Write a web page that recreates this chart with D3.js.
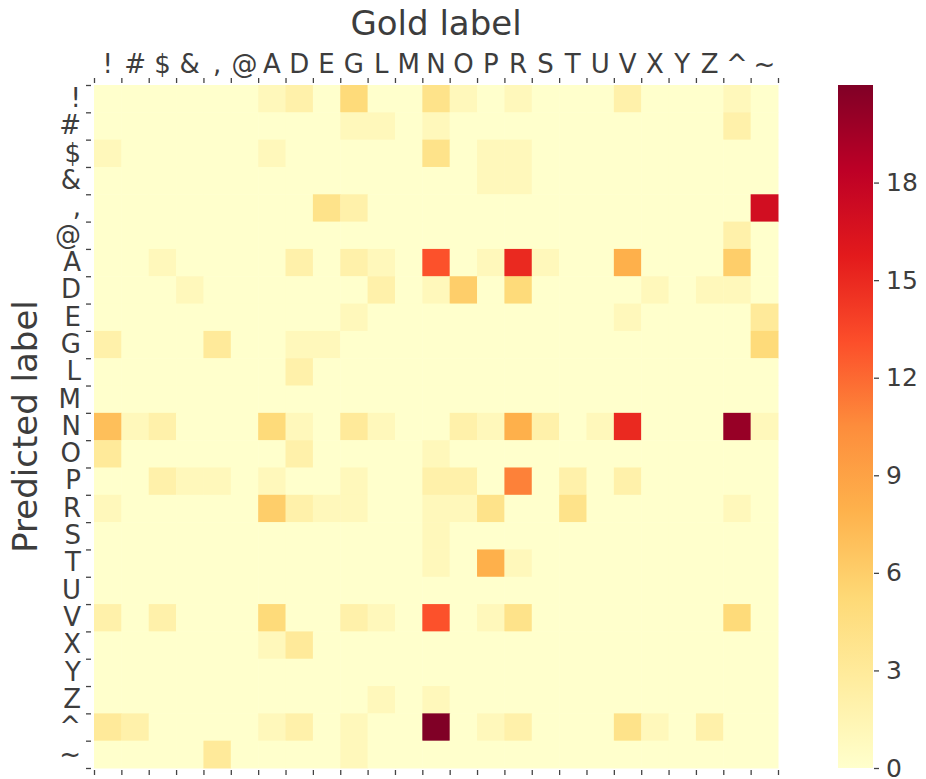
<!DOCTYPE html>
<html>
<head>
<meta charset="utf-8">
<script src="https://cdn.jsdelivr.net/npm/d3@7"></script>
<style>
  body { margin: 0; background: #fff; }
  svg { display: block; font-family: "DejaVu Sans", sans-serif; }
</style>
</head>
<body>
<div id="chart"></div>
<script>
// tag set, same order on both axes
const labels = ['!', '#', '$', '&', ',', '@', 'A', 'D', 'E', 'G', 'L', 'M', 'N',
  'O', 'P', 'R', 'S', 'T', 'U', 'V', 'X', 'Y', 'Z', '^', '~'];

// rows = predicted label, columns = gold label
const counts = [
  // !  #  $  &  ,  @  A  D  E  G  L  M  N   O  P  R   S  T  U  V   X  Y  Z  ^   ~
  [0, 0, 0, 0, 0, 0, 1, 2, 0, 5, 0, 0, 4, 1, 0, 1, 0, 0, 0, 2, 0, 0, 0, 1, 0],   // !
  [0, 0, 0, 0, 0, 0, 0, 0, 0, 1, 1, 0, 1, 0, 0, 0, 0, 0, 0, 0, 0, 0, 0, 2, 0],   // #
  [1, 0, 0, 0, 0, 0, 1, 0, 0, 0, 0, 0, 4, 0, 1, 1, 0, 0, 0, 0, 0, 0, 0, 0, 0],   // $
  [0, 0, 0, 0, 0, 0, 0, 0, 0, 0, 0, 0, 0, 0, 1, 1, 0, 0, 0, 0, 0, 0, 0, 0, 0],   // &
  [0, 0, 0, 0, 0, 0, 0, 0, 4, 2, 0, 0, 0, 0, 0, 0, 0, 0, 0, 0, 0, 0, 0, 0, 17],  // ,
  [0, 0, 0, 0, 0, 0, 0, 0, 0, 0, 0, 0, 0, 0, 0, 0, 0, 0, 0, 0, 0, 0, 0, 2, 0],   // @
  [0, 0, 1, 0, 0, 0, 0, 2, 0, 2, 1, 0, 13, 0, 1, 15, 1, 0, 0, 8, 0, 0, 0, 6, 0], // A
  [0, 0, 0, 1, 0, 0, 0, 0, 0, 0, 2, 0, 1, 6, 0, 5, 0, 0, 0, 0, 1, 0, 1, 1, 0],   // D
  [0, 0, 0, 0, 0, 0, 0, 0, 0, 1, 0, 0, 0, 0, 0, 0, 0, 0, 0, 1, 0, 0, 0, 0, 3],   // E
  [2, 0, 0, 0, 3, 0, 0, 1, 1, 0, 0, 0, 0, 0, 0, 0, 0, 0, 0, 0, 0, 0, 0, 0, 5],   // G
  [0, 0, 0, 0, 0, 0, 0, 2, 0, 0, 0, 0, 0, 0, 0, 0, 0, 0, 0, 0, 0, 0, 0, 0, 0],   // L
  [0, 0, 0, 0, 0, 0, 0, 0, 0, 0, 0, 0, 0, 0, 0, 0, 0, 0, 0, 0, 0, 0, 0, 0, 0],   // M
  [7, 1, 2, 0, 0, 0, 5, 1, 0, 3, 1, 0, 0, 2, 1, 8, 2, 0, 1, 15, 0, 0, 0, 20, 1], // N
  [3, 0, 0, 0, 0, 0, 0, 2, 0, 0, 0, 0, 1, 0, 0, 0, 0, 0, 0, 0, 0, 0, 0, 0, 0],   // O
  [0, 0, 2, 1, 1, 0, 1, 0, 0, 1, 0, 0, 2, 2, 0, 11, 0, 2, 0, 2, 0, 0, 0, 0, 0],  // P
  [1, 0, 0, 0, 0, 0, 6, 2, 1, 1, 0, 0, 1, 1, 4, 0, 0, 4, 0, 0, 0, 0, 0, 1, 0],   // R
  [0, 0, 0, 0, 0, 0, 0, 0, 0, 0, 0, 0, 1, 0, 0, 0, 0, 0, 0, 0, 0, 0, 0, 0, 0],   // S
  [0, 0, 0, 0, 0, 0, 0, 0, 0, 0, 0, 0, 1, 0, 8, 1, 0, 0, 0, 0, 0, 0, 0, 0, 0],   // T
  [0, 0, 0, 0, 0, 0, 0, 0, 0, 0, 0, 0, 0, 0, 0, 0, 0, 0, 0, 0, 0, 0, 0, 0, 0],   // U
  [2, 0, 2, 0, 0, 0, 5, 0, 0, 2, 1, 0, 13, 0, 1, 4, 0, 0, 0, 0, 0, 0, 0, 5, 0],  // V
  [0, 0, 0, 0, 0, 0, 1, 3, 0, 0, 0, 0, 0, 0, 0, 0, 0, 0, 0, 0, 0, 0, 0, 0, 0],   // X
  [0, 0, 0, 0, 0, 0, 0, 0, 0, 0, 0, 0, 0, 0, 0, 0, 0, 0, 0, 0, 0, 0, 0, 0, 0],   // Y
  [0, 0, 0, 0, 0, 0, 0, 0, 0, 0, 1, 0, 1, 0, 0, 0, 0, 0, 0, 0, 0, 0, 0, 0, 0],   // Z
  [3, 2, 0, 0, 0, 0, 1, 2, 0, 1, 0, 0, 21, 0, 1, 2, 0, 0, 0, 4, 1, 0, 2, 0, 0],  // ^
  [0, 0, 0, 0, 3, 0, 0, 0, 0, 1, 0, 0, 0, 0, 0, 0, 0, 0, 0, 0, 0, 0, 0, 0, 0]    // ~
];

const colorbarTicks = [0, 3, 6, 9, 12, 15, 18];
const vmax = 21;

// matplotlib YlOrRd stops
const ylOrRd = ['#ffffcc', '#ffeda0', '#fed976', '#feb24c', '#fd8d3c',
  '#fc4e2a', '#e31a1c', '#bd0026', '#800026'];

const width = 926;
const height = 779;
const textColor = '#3d3d3d';
const tickColor = '#444';

const plot = { left: 94, right: 778, top: 85, bottom: 768 };
const cbar = { left: 838, right: 873 };

const svg = d3.select('#chart')
  .append('svg')
  .attr('width', width)
  .attr('height', height);

const x = d3.scaleBand().domain(labels).range([plot.left, plot.right]);
const y = d3.scaleBand().domain(labels).range([plot.top, plot.bottom]);
// tick marks sit on cell edges
const xEdge = d3.scaleLinear().domain([0, labels.length]).range([plot.left, plot.right]);
const yEdge = d3.scaleLinear().domain([0, labels.length]).range([plot.top, plot.bottom]);

const color = d3.scaleLinear()
  .domain(ylOrRd.map((_, i) => i * vmax / (ylOrRd.length - 1)))
  .range(ylOrRd)
  .clamp(true);

const cells = [];
counts.forEach((row, r) => {
  row.forEach((v, c) => cells.push({ pred: labels[r], gold: labels[c], value: v }));
});

svg.append('g')
  .selectAll('rect')
  .data(cells)
  .join('rect')
  .attr('x', d => x(d.gold))
  .attr('y', d => y(d.pred))
  .attr('width', x.bandwidth() + 0.5)
  .attr('height', y.bandwidth() + 0.5)
  .attr('fill', d => color(d.value));

// edge ticks on top, bottom and left
const edgeTicks = d3.range(labels.length + 1);

function styleTicks(g) {
  g.select('.domain').remove();
  g.selectAll('.tick line').attr('stroke', tickColor).attr('stroke-width', 1.3);
}

svg.append('g')
  .attr('transform', `translate(0,${plot.top - 2})`)
  .call(d3.axisTop(xEdge).tickValues(edgeTicks).tickFormat('').tickSize(5))
  .call(styleTicks);

svg.append('g')
  .attr('transform', `translate(0,${plot.bottom + 2})`)
  .call(d3.axisBottom(xEdge).tickValues(edgeTicks).tickFormat('').tickSize(5))
  .call(styleTicks);

svg.append('g')
  .attr('transform', `translate(${plot.left - 3},0)`)
  .call(d3.axisLeft(yEdge).tickValues(edgeTicks).tickFormat('').tickSize(5))
  .call(styleTicks);

// category labels centred on cells
const xLabels = svg.append('g')
  .attr('transform', `translate(0,${plot.top - 12})`)
  .call(d3.axisTop(x).tickSize(0).tickPadding(0));
xLabels.select('.domain').remove();
xLabels.selectAll('text')
  .attr('font-size', '26px')
  .attr('font-family', '"DejaVu Sans", sans-serif')
  .attr('fill', textColor);

const yLabels = svg.append('g')
  .attr('transform', `translate(${plot.left - 13},0)`)
  .call(d3.axisLeft(y).tickSize(0).tickPadding(0));
yLabels.select('.domain').remove();
yLabels.selectAll('text')
  .attr('font-size', '26px')
  .attr('font-family', '"DejaVu Sans", sans-serif')
  .attr('fill', textColor);

// axis titles
svg.append('text')
  .attr('x', (plot.left + plot.right) / 2)
  .attr('y', 35)
  .attr('text-anchor', 'middle')
  .attr('font-size', '34px')
  .attr('fill', textColor)
  .text('Gold label');

svg.append('text')
  .attr('transform', `translate(37,${(plot.top + plot.bottom) / 2}) rotate(-90)`)
  .attr('text-anchor', 'middle')
  .attr('font-size', '34px')
  .attr('fill', textColor)
  .text('Predicted label');

// colorbar
const cy = d3.scaleLinear().domain([0, vmax]).range([plot.bottom, plot.top]);

const grad = svg.append('defs')
  .append('linearGradient')
  .attr('id', 'cbar-grad')
  .attr('x1', 0).attr('y1', 1)
  .attr('x2', 0).attr('y2', 0);

grad.selectAll('stop')
  .data(color.domain())
  .join('stop')
  .attr('offset', d => d / vmax)
  .attr('stop-color', d => color(d));

svg.append('rect')
  .attr('x', cbar.left)
  .attr('y', plot.top)
  .attr('width', cbar.right - cbar.left)
  .attr('height', plot.bottom - plot.top)
  .attr('fill', 'url(#cbar-grad)');

const cAxis = svg.append('g')
  .attr('transform', `translate(${cbar.right + 1},0)`)
  .call(d3.axisRight(cy).tickValues(colorbarTicks).tickSize(5).tickPadding(7));
cAxis.select('.domain').remove();
cAxis.selectAll('.tick line').attr('stroke', tickColor).attr('stroke-width', 1.3);
cAxis.selectAll('text')
  .attr('font-size', '25px')
  .attr('font-family', '"DejaVu Sans", sans-serif')
  .attr('fill', textColor);
</script>
</body>
</html>
